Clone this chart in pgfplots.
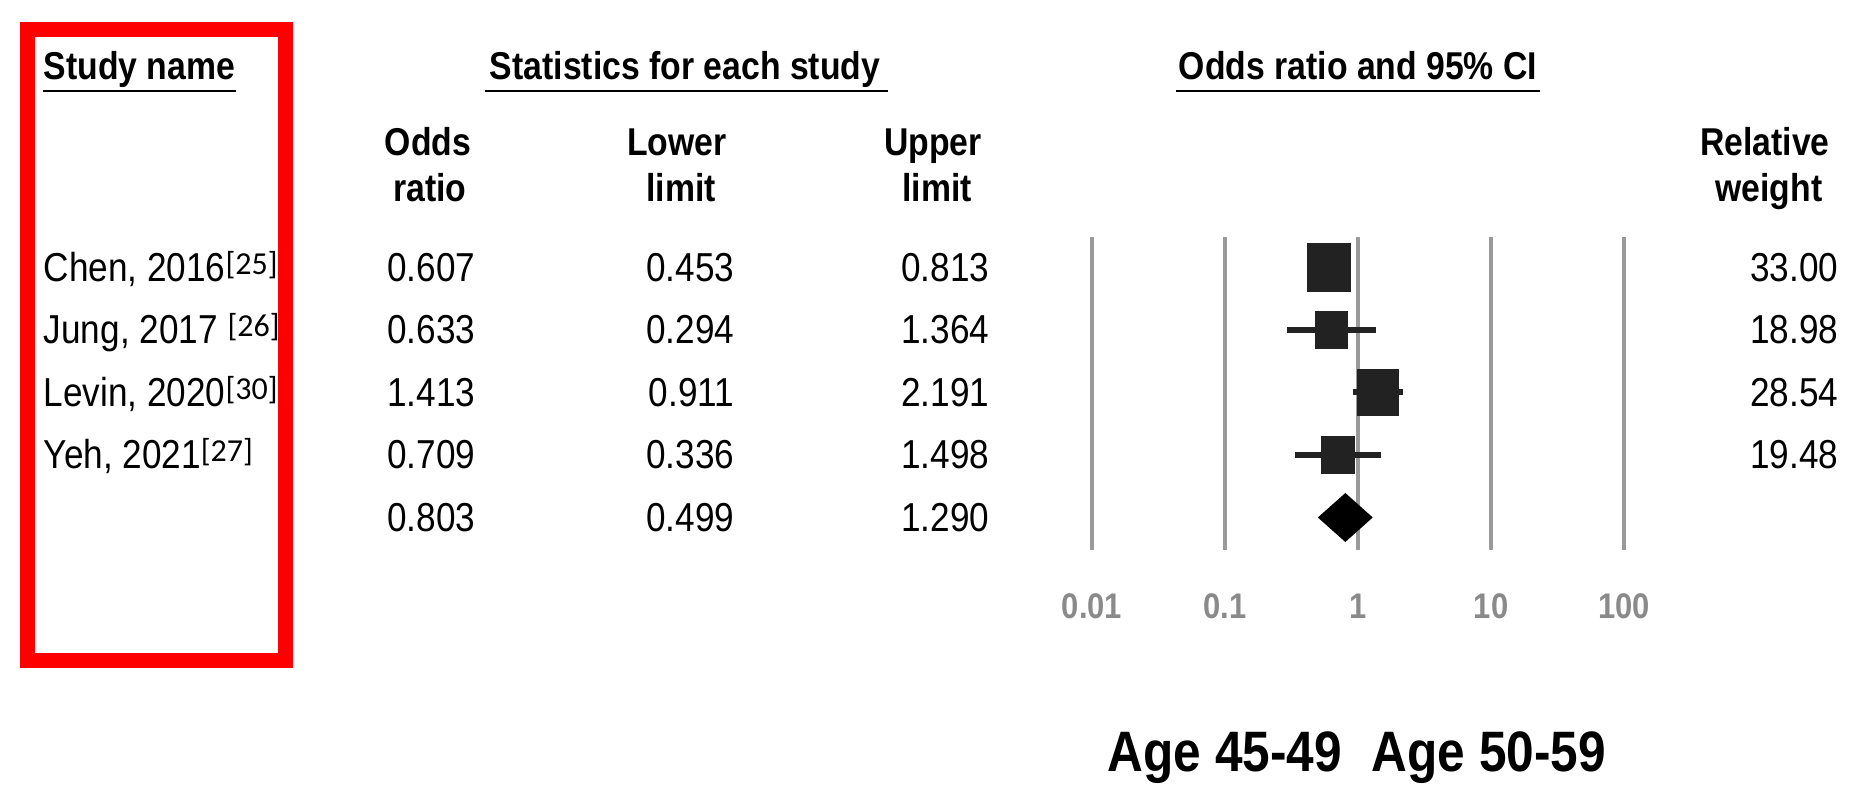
\documentclass[border=0pt]{standalone}
\usepackage{pgfplots}
\pgfplotsset{compat=1.18}
\usepackage{pgfplotstable}
\usepackage{fontspec}
\setmainfont{Liberation Sans}[FakeStretch=0.87]
\newfontfamily\supfont{Carlito}
\definecolor{gridgray}{HTML}{9A9A9A}
\definecolor{tickgray}{HTML}{8A8A8A}
\definecolor{boxblack}{HTML}{222222}

% odds ratio, CI, relative weight, row
\pgfplotstableread{
or    lo    hi    w     row
0.607 0.453 0.813 33.00 1
0.633 0.294 1.364 18.98 2
1.413 0.911 2.191 28.54 3
0.709 0.336 1.498 19.48 4
}\studies

% CI whiskers, one segment per study
\pgfplotstableread{
x     y
0.453 1
0.813 1
nan   nan
0.294 2
1.364 2
nan   nan
0.911 3
2.191 3
nan   nan
0.336 4
1.498 4
}\whiskers

\newcommand\hd{\fontsize{9.7}{11}\selectfont\bfseries}
\newcommand\tx{\fontsize{10.1}{12}\selectfont}
\newcommand\rf[1]{\raisebox{1.9pt}{\supfont\fontsize{8}{9}\selectfont[#1]}}

\begin{document}
\begin{tikzpicture}[x=0.25pt,y=-0.25pt]
\path[use as bounding box] (0,0) rectangle (1855,799);

\begin{axis}[
  at={(259.7pt,-137.5pt)}, anchor=south west,
  scale only axis, width=159.6pt, height=78.25pt,
  xmode=log, xmin=0.0039811, xmax=251.19,
  ymin=0.512, ymax=5.52, y dir=reverse,
  axis line style={draw=none},
  ytick=\empty,
  xtick={0.01,0.1,1,10,100},
  xticklabels={0.01,0.1,1,10,100},
  xminorticks=false,
  major tick length=0pt, minor tick length=0pt,
  tick style={draw=none},
  xmajorgrids,
  major grid style={draw=gridgray, line width=1pt},
  x tick label style={font=\fontsize{8.9}{10}\selectfont\bfseries,
    text=tickgray, anchor=base, yshift=-17.25pt, inner sep=0pt},
  clip=false,
]
  \addplot[boxblack, line width=1.5pt, unbounded coords=jump] table {\whiskers};

  \addplot[only marks, mark=square*, scatter,
    visualization depends on={1.05*sqrt(\thisrow{w}) \as \msz},
    scatter/use mapped color={draw=boxblack, fill=boxblack},
    scatter/@pre marker code/.append style={/tikz/mark size=\msz},
    mark options={xscale=0.88}]
    table[x=or, y=row] {\studies};

  % pooled estimate
  \addplot[fill=black, draw=none] coordinates {
    (0.499,5) (0.803,4.608) (1.290,5) (0.803,5.392) (0.499,5)
  };
\end{axis}

\draw[red, line width=3.75pt] (27.5,29.5) rectangle (285.5,660.5);

% headers
\node[anchor=base west, inner sep=0] at (43,80) {\hd Study name};
\node[anchor=base, inner sep=0] at (685,80) {\hd Statistics for each study};
\node[anchor=base, inner sep=0] at (1358,80) {\hd Odds ratio and 95\% CI};
\draw[line width=0.5pt] (43,91) -- (236,91);
\draw[line width=0.5pt] (485,91) -- (888,91);
\draw[line width=0.5pt] (1176,91) -- (1540,91);

\node[anchor=base, inner sep=0] at (428,156) {\hd Odds};
\node[anchor=base, inner sep=0] at (430,202) {\hd ratio};
\node[anchor=base, inner sep=0] at (677,156) {\hd Lower};
\node[anchor=base, inner sep=0] at (681,202) {\hd limit};
\node[anchor=base, inner sep=0] at (933,156) {\hd Upper};
\node[anchor=base, inner sep=0] at (937,202) {\hd limit};
\node[anchor=base, inner sep=0] at (1765,156) {\hd Relative};
\node[anchor=base, inner sep=0] at (1769,202) {\hd weight};

% study rows
\node[anchor=base west, inner sep=0] at (43,282) {\tx Chen, 2016\rf{25}};
\node[anchor=base west, inner sep=0] at (43,344) {\tx Jung, 2017 \rf{26}};
\node[anchor=base west, inner sep=0] at (43,407) {\tx Levin, 2020\rf{30}};
\node[anchor=base west, inner sep=0] at (43,469) {\tx Yeh, 2021\rf{27}};

\node[anchor=base east, inner sep=0] at (476,282) {\tx 0.607};
\node[anchor=base east, inner sep=0] at (476,344) {\tx 0.633};
\node[anchor=base east, inner sep=0] at (476,407) {\tx 1.413};
\node[anchor=base east, inner sep=0] at (476,469) {\tx 0.709};
\node[anchor=base east, inner sep=0] at (476,532) {\tx 0.803};

\node[anchor=base east, inner sep=0] at (735,282) {\tx 0.453};
\node[anchor=base east, inner sep=0] at (735,344) {\tx 0.294};
\node[anchor=base east, inner sep=0] at (735,407) {\tx 0.911};
\node[anchor=base east, inner sep=0] at (735,469) {\tx 0.336};
\node[anchor=base east, inner sep=0] at (735,532) {\tx 0.499};

\node[anchor=base east, inner sep=0] at (990,282) {\tx 0.813};
\node[anchor=base east, inner sep=0] at (990,344) {\tx 1.364};
\node[anchor=base east, inner sep=0] at (990,407) {\tx 2.191};
\node[anchor=base east, inner sep=0] at (990,469) {\tx 1.498};
\node[anchor=base east, inner sep=0] at (990,532) {\tx 1.290};

\node[anchor=base east, inner sep=0] at (1839,282) {\tx 33.00};
\node[anchor=base east, inner sep=0] at (1839,344) {\tx 18.98};
\node[anchor=base east, inner sep=0] at (1839,407) {\tx 28.54};
\node[anchor=base east, inner sep=0] at (1839,469) {\tx 19.48};

% favours labels
\node[anchor=base, inner sep=0] at (1225,772) {\fontsize{14.25}{17}\selectfont\bfseries Age 45-49};
\node[anchor=base, inner sep=0] at (1489,772) {\fontsize{14.25}{17}\selectfont\bfseries Age 50-59};
\end{tikzpicture}
\end{document}
